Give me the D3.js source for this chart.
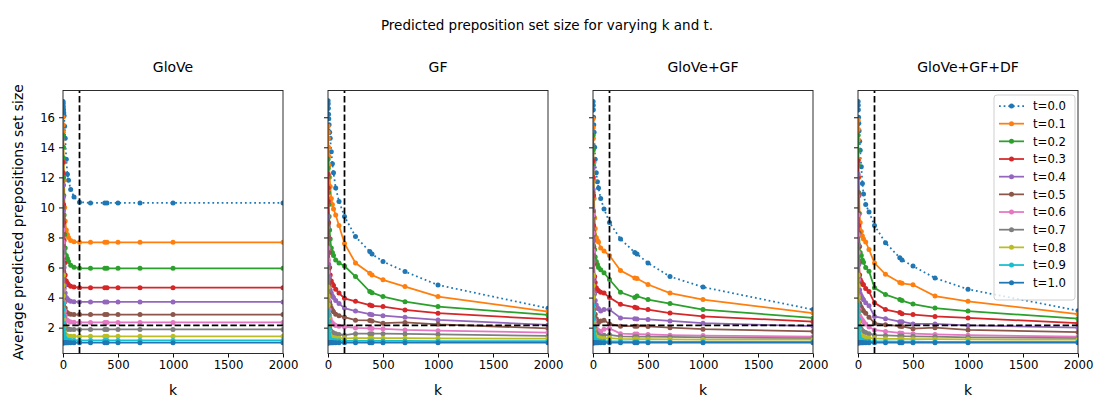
<!DOCTYPE html>
<html><head><meta charset="utf-8">
<script src="https://cdn.jsdelivr.net/npm/d3@7"></script>
<style>body{margin:0;background:#fff}svg{display:block;font-family:"DejaVu Sans",sans-serif}</style>
</head><body><svg id="c" width="1094" height="399"></svg>
<script>
const kValues=[1,2,3,5,7,10,15,20,30,40,50,70,100,150,250,380,400,500,700,1000,2000];
const tLabels=["t=0.0","t=0.1","t=0.2","t=0.3","t=0.4","t=0.5","t=0.6","t=0.7","t=0.8","t=0.9","t=1.0"];
const panelTitles=["GloVe","GF","GloVe+GF","GloVe+GF+DF"];
const xTicks=[0,500,1000,1500,2000];
const yTicks=[2,4,6,8,10,12,14,16];
const kCut=150;
const sizeRef=2.15;

const gloveSeries=[
[17.05,16.9,16.7,16.5,16.3,16.1,15.4,14.6,13.2,12.2,11.8,11.2,10.7,10.35,10.3,10.3,10.3,10.3,10.3,10.3,10.3],
[16.0,15.5,15.0,14.0,13.0,11.8,10.0,9.1,8.5,8.2,8.0,7.8,7.72,7.68,7.68,7.68,7.68,7.68,7.68,7.68,7.68],
[14.8,14.0,13.3,12.0,10.8,9.5,8.2,7.3,6.8,6.6,6.4,6.15,6.02,5.96,5.95,5.95,5.95,5.95,5.95,5.95,5.95],
[13.0,12.3,11.5,10.2,9.0,7.8,6.3,5.5,5.1,4.95,4.85,4.75,4.7,4.66,4.66,4.66,4.66,4.66,4.66,4.66,4.66],
[11.5,10.7,9.8,8.4,7.2,6.0,4.8,4.3,4.0,3.9,3.82,3.76,3.73,3.71,3.71,3.71,3.71,3.71,3.71,3.71,3.71],
[10.0,9.2,8.3,6.8,5.7,4.6,3.7,3.3,3.05,2.97,2.93,2.9,2.88,2.87,2.87,2.87,2.87,2.87,2.87,2.87,2.87],
[8.5,7.7,6.8,5.5,4.5,3.7,3.1,2.8,2.55,2.47,2.42,2.38,2.36,2.35,2.35,2.35,2.35,2.35,2.35,2.35,2.35],
[7.0,6.2,5.4,4.2,3.4,2.7,2.2,2.0,1.92,1.9,1.89,1.88,1.88,1.88,1.88,1.88,1.88,1.88,1.88,1.88,1.88],
[5.5,4.8,4.1,3.2,2.6,2.1,1.7,1.55,1.47,1.44,1.43,1.42,1.42,1.42,1.42,1.42,1.42,1.42,1.42,1.42,1.42],
[3.6,3.2,2.8,2.3,1.9,1.6,1.35,1.25,1.18,1.16,1.15,1.15,1.15,1.15,1.15,1.15,1.15,1.15,1.15,1.15,1.15],
[1.0,1.0,1.0,1.0,1.0,1.0,1.0,1.0,1.0,1.0,1.0,1.0,1.0,1.0,1.0,1.0,1.0,1.0,1.0,1.0,1.0]
];
const gfSeries=[
[17.1,16.9,16.6,16.2,15.9,15.5,15.0,14.6,13.7,12.9,12.3,11.3,10.4,9.4,8.06,7.06,6.9,6.4,5.73,4.84,3.29],
[15.4,15.0,14.6,14.0,13.4,12.8,12.0,11.4,10.6,10.2,9.9,9.5,8.8,7.6,6.3,5.62,5.5,5.18,4.73,4.07,3.07],
[13.2,12.6,12.0,11.0,10.2,9.4,8.5,7.9,7.3,7.0,6.8,6.5,6.3,6.1,5.4,4.4,4.33,4.07,3.73,3.4,2.85],
[12.2,11.3,10.4,9.0,8.0,7.0,6.0,5.5,5.1,4.9,4.8,4.55,4.3,3.95,3.75,3.5,3.45,3.4,3.18,2.96,2.56],
[9.4,8.7,8.0,7.0,6.2,5.4,4.8,4.5,4.3,4.1,4.0,3.8,3.6,3.3,3.1,2.9,2.86,2.8,2.69,2.51,2.18],
[8.9,8.0,7.0,5.8,4.9,4.2,3.7,3.5,3.3,3.15,3.05,2.9,2.8,2.7,2.5,2.48,2.45,2.3,2.35,2.22,1.95],
[7.3,6.5,5.7,4.6,3.8,3.2,2.8,2.6,2.4,2.3,2.25,2.15,2.1,2.05,1.98,1.96,1.95,1.92,1.85,1.8,1.67],
[6.0,5.2,4.5,3.6,2.9,2.4,2.0,1.85,1.75,1.7,1.65,1.6,1.55,1.5,1.6,1.6,1.6,1.6,1.58,1.55,1.45],
[4.7,4.1,3.5,2.7,2.2,1.8,1.55,1.45,1.38,1.35,1.33,1.31,1.3,1.28,1.3,1.3,1.3,1.3,1.3,1.29,1.27],
[3.1,2.8,2.4,1.9,1.6,1.4,1.25,1.2,1.16,1.15,1.14,1.13,1.13,1.12,1.12,1.12,1.12,1.12,1.12,1.11,1.1],
[1.0,1.0,1.0,1.0,1.0,1.0,1.0,1.0,1.0,1.0,1.0,1.0,1.0,1.0,1.0,1.0,1.0,1.0,1.0,1.0,1.0]
];
const gloveGfSeries=[
[17.05,16.8,16.5,16.0,15.5,15.0,14.0,13.2,12.3,11.7,11.3,10.6,9.9,9.0,7.9,7.0,6.9,6.3,5.4,4.7,3.2],
[15.9,15.3,14.6,13.0,11.8,10.6,9.3,8.6,8.0,7.8,7.7,7.3,7.1,6.8,5.8,5.3,5.27,4.87,4.3,3.87,2.97],
[14.8,13.8,12.8,10.8,9.4,8.2,7.2,6.7,6.4,6.2,6.0,5.85,5.65,5.2,4.35,4.0,4.1,3.87,3.6,3.2,2.65],
[13.1,12.0,10.8,8.8,7.4,6.3,5.4,5.0,4.65,4.5,4.45,4.35,4.3,4.0,3.55,3.35,3.3,3.2,2.97,2.75,2.4],
[12.6,11.2,9.8,7.8,6.4,5.2,4.3,3.8,3.5,3.3,3.25,3.1,3.2,3.2,2.65,2.6,2.58,2.55,2.45,2.3,2.1],
[11.0,9.7,8.4,6.6,5.3,4.2,3.3,2.9,2.6,2.45,2.35,2.45,2.5,2.25,2.1,2.1,2.1,2.08,2.0,1.9,1.75],
[9.5,8.3,7.1,5.4,4.2,3.3,2.5,2.2,1.95,1.85,1.8,1.75,1.9,1.95,1.6,1.57,1.57,1.55,1.5,1.47,1.4],
[7.5,6.5,5.5,4.1,3.2,2.5,2.0,1.8,1.65,1.55,1.5,1.45,1.5,1.52,1.42,1.4,1.4,1.4,1.38,1.35,1.3],
[5.5,4.8,4.0,3.0,2.4,1.9,1.6,1.45,1.38,1.34,1.32,1.3,1.28,1.3,1.25,1.24,1.24,1.23,1.22,1.21,1.2],
[3.5,3.0,2.6,2.0,1.7,1.45,1.28,1.2,1.15,1.12,1.11,1.1,1.1,1.08,1.08,1.07,1.07,1.07,1.06,1.06,1.06],
[1.0,1.0,1.0,1.0,1.0,1.0,1.0,1.0,1.0,1.0,1.0,1.0,1.0,1.0,1.0,1.0,1.0,1.0,1.0,1.0,1.0]
];
const gloveGfDfSeries=[
[17.05,16.8,16.5,16.0,15.6,15.1,14.4,13.8,12.7,11.6,10.9,10.2,9.7,8.8,7.65,6.65,6.5,6.1,5.3,4.55,3.13],
[15.8,15.2,14.5,13.2,12.0,10.8,9.6,9.0,8.4,8.1,7.9,7.7,7.2,6.3,5.55,5.0,4.95,4.85,4.1,3.75,2.9],
[14.8,13.8,12.8,11.0,9.6,8.3,7.4,7.0,6.8,6.5,6.35,6.0,5.75,4.65,4.2,3.87,3.8,3.57,3.3,3.1,2.6],
[13.1,12.0,10.8,8.8,7.4,6.3,5.5,5.2,5.05,4.9,4.85,4.6,4.4,3.65,3.2,3.0,2.93,2.87,2.75,2.65,2.3],
[12.2,10.8,9.5,7.5,6.2,5.1,4.5,4.25,4.1,3.95,3.85,3.65,3.45,2.75,2.6,2.4,2.4,2.25,2.25,2.15,2.0],
[11.0,9.6,8.3,6.4,5.1,4.1,3.6,3.45,3.35,3.2,3.1,2.95,2.7,2.3,2.2,2.1,2.08,1.93,2.0,1.85,1.7],
[9.5,8.2,7.0,5.2,4.1,3.2,2.8,2.7,2.6,2.5,2.4,2.25,2.05,1.85,1.75,1.65,1.63,1.6,1.55,1.5,1.4],
[7.5,6.4,5.4,4.0,3.1,2.4,2.1,2.0,1.9,1.8,1.75,1.68,1.6,1.5,1.48,1.45,1.44,1.42,1.4,1.36,1.3],
[5.5,4.8,4.0,3.0,2.4,1.9,1.65,1.55,1.48,1.42,1.38,1.34,1.31,1.28,1.26,1.25,1.25,1.24,1.23,1.22,1.2],
[3.5,3.0,2.6,2.0,1.7,1.45,1.28,1.22,1.17,1.14,1.12,1.1,1.09,1.08,1.08,1.07,1.07,1.07,1.06,1.06,1.06],
[1.0,1.0,1.0,1.0,1.0,1.0,1.0,1.0,1.0,1.0,1.0,1.0,1.0,1.0,1.0,1.0,1.0,1.0,1.0,1.0,1.0]
];
const colors=["#1f77b4","#ff7f0e","#2ca02c","#d62728","#9467bd","#8c564b","#e377c2","#7f7f7f","#bcbd22","#17becf","#1f77b4"];

const panels=[gloveSeries,gfSeries,gloveGfSeries,gloveGfDfSeries];
const svg=d3.select("#c");
const left0=63, pw=220, step=265, plotTop=90.5, plotBottom=353.5;
const y=d3.scaleLinear().domain([0.28,17.78]).range([plotBottom,plotTop]);
const LW=1.75, DOT="1.75,2.9", DASH="6.5,2.8";

svg.append("text").attr("x",547).attr("y",30).attr("text-anchor","middle")
  .attr("font-size","13.5px").attr("fill","#000").text("Predicted preposition set size for varying k and t.");

panels.forEach((series,p)=>{
  const x0=left0+p*step;
  const x=d3.scaleLinear().domain([0,2000]).range([x0,x0+pw]);
  const cid="clip"+p;
  svg.append("clipPath").attr("id",cid).append("rect")
    .attr("x",x0).attr("y",plotTop).attr("width",pw).attr("height",plotBottom-plotTop);
  const plot=svg.append("g").attr("clip-path",`url(#${cid})`);
  const line=d3.line().x((d,i)=>x(kValues[i])).y(d=>y(d));
  series.forEach((vals,s)=>{
    const gs=plot.append("g");
    gs.append("path").attr("d",line(vals)).attr("fill","none")
      .attr("stroke",colors[s]).attr("stroke-width",LW)
      .attr("stroke-dasharray",s===0?DOT:null);
    gs.selectAll("circle").data(vals).enter().append("circle")
      .attr("cx",(d,i)=>x(kValues[i])).attr("cy",d=>y(d)).attr("r",2.5).attr("fill",colors[s]);
  });
  plot.append("line").attr("x1",x(kCut)).attr("x2",x(kCut)).attr("y1",plotBottom).attr("y2",plotTop)
    .attr("stroke","#000").attr("stroke-width",LW).attr("stroke-dasharray",DASH);
  plot.append("line").attr("x1",x0).attr("x2",x0+pw).attr("y1",y(sizeRef)).attr("y2",y(sizeRef))
    .attr("stroke","#000").attr("stroke-width",LW).attr("stroke-dasharray",DASH);

  const xa=svg.append("g").attr("transform",`translate(0,${plotBottom})`)
    .call(d3.axisBottom(x).tickValues(xTicks).tickSize(4).tickPadding(3).tickSizeOuter(0)
      .tickFormat(d3.format("d")));
  const ya=svg.append("g").attr("transform",`translate(${x0},0)`)
    .call(d3.axisLeft(y).tickValues(yTicks).tickSize(4).tickPadding(4).tickSizeOuter(0)
      .tickFormat(p===0?d3.format("d"):()=>""));
  [xa,ya].forEach(a=>{
    a.select(".domain").remove();
    a.selectAll("line").attr("stroke","#000").attr("stroke-width",0.95);
    a.selectAll("text").attr("font-size","11.7px").attr("fill","#000").attr("font-family","DejaVu Sans");
  });
  svg.append("rect").attr("x",x0).attr("y",plotTop).attr("width",pw).attr("height",plotBottom-plotTop)
    .attr("fill","none").attr("stroke","#222").attr("stroke-width",0.95);

  svg.append("text").attr("x",x0+pw/2).attr("y",72).attr("text-anchor","middle")
    .attr("font-size","14px").attr("fill","#000").text(panelTitles[p]);
  svg.append("text").attr("x",x0+pw/2).attr("y",395).attr("text-anchor","middle")
    .attr("font-size","14px").attr("fill","#000").text("k");

  if(p===panels.length-1){
    const lg=svg.append("g");
    lg.append("rect").attr("x",994).attr("y",95).attr("width",81).attr("height",205)
      .attr("rx",3).attr("fill","#fff").attr("fill-opacity",0.8).attr("stroke","#ccc").attr("stroke-width",0.95);
    tLabels.forEach((lab,s)=>{
      const ly=106+s*17.67;
      lg.append("line").attr("x1",999).attr("x2",1024).attr("y1",ly).attr("y2",ly)
        .attr("stroke",colors[s]).attr("stroke-width",LW).attr("stroke-dasharray",s===0?DOT:null);
      lg.append("circle").attr("cx",1011.5).attr("cy",ly).attr("r",2.5).attr("fill",colors[s]);
      lg.append("text").attr("x",1033).attr("y",ly).attr("dy","0.36em")
        .attr("font-size","11.7px").attr("fill","#000").text(lab);
    });
  }
});

svg.append("text").attr("transform","translate(23,222) rotate(-90)").attr("text-anchor","middle")
  .attr("font-size","14px").attr("fill","#000").text("Average predicted prepositions set size");
</script></body></html>
